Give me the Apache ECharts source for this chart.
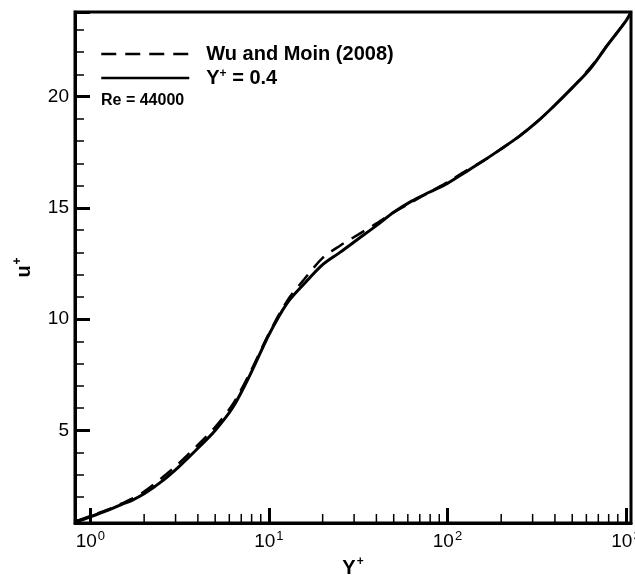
<!DOCTYPE html>
<html>
<head>
<meta charset="utf-8">
<script src="https://cdn.jsdelivr.net/npm/echarts@6/dist/echarts.min.js"></script>
<style>
html,body{margin:0;padding:0;background:#fff;}
#chart{width:635px;height:579px;}
</style>
</head>
<body>
<div id="chart"></div>
<script>
// ---- data ----
const yPlusSolid = [0.82, 1.0, 1.26, 1.5, 1.7, 2.0, 2.5, 3.16, 4.0, 5.0, 6.3, 7.9, 10, 12.6, 15.8, 20, 25, 31.6, 40, 50, 63, 79, 100, 126, 158, 200, 251, 316, 398, 501, 631, 794, 1000, 1067];
const uSolid     = [0.88, 1.12, 1.42, 1.68, 1.85, 2.15, 2.7, 3.4, 4.2, 5.0, 6.05, 7.55, 9.3, 10.7, 11.6, 12.45, 13.0, 13.6, 14.2, 14.8, 15.3, 15.7, 16.1, 16.6, 17.1, 17.65, 18.2, 18.85, 19.6, 20.4, 21.25, 22.35, 23.4, 23.8];
const yPlusWu    = [0.82, 1.0, 1.26, 1.5, 1.7, 2.0, 2.5, 3.16, 4.0, 5.0, 6.3, 7.9, 10, 12.6, 15.8, 20, 25, 31.6, 40, 50, 63, 79, 100, 126, 158, 200, 251, 316, 398, 501, 631, 794, 1000, 1067];
const uWu        = [0.9, 1.15, 1.45, 1.72, 1.92, 2.25, 2.85, 3.55, 4.35, 5.15, 6.2, 7.65, 9.35, 10.8, 11.8, 12.75, 13.3, 13.8, 14.3, 14.8, 15.25, 15.7, 16.15, 16.65, 17.1, 17.65, 18.2, 18.85, 19.6, 20.4, 21.3, 22.35, 23.4, 23.8];
const xMinorTicks = [2, 3, 4, 5, 6, 7, 8, 9, 20, 30, 40, 50, 60, 70, 80, 90, 200, 300, 400, 500, 600, 700, 800, 900];
const xMin = 0.82, xMax = 1067;
const yMin = 0.84, yMax = 23.8;
const seriesNames = ['Wu and Moin (2008)', 'Y+ = 0.4'];
const annotation = 'Re = 44000';

const FONT = '"Liberation Sans", Arial, sans-serif';
const chart = echarts.init(document.getElementById('chart'), null, {renderer: 'canvas'});

function pairs(xs, ys) { return xs.map((x, i) => [x, ys[i]]); }

const option = {
  backgroundColor: '#ffffff',
  animation: false,
  grid: {left: 75, right: 4, top: 12, bottom: 56, containLabel: false, outerBoundsMode: 'none',
         show: true, borderColor: '#000', borderWidth: 3, backgroundColor: 'transparent'},
  xAxis: {
    type: 'log', logBase: 10, min: xMin, max: xMax,
    name: '{m|Y}{s|+}', nameLocation: 'middle', nameGap: 33,
    nameTextStyle: {rich: {
      m: {fontFamily: FONT, fontWeight: 'bold', fontSize: 20, color: '#000', lineHeight: 22, verticalAlign: 'bottom'},
      s: {fontFamily: FONT, fontWeight: 'bold', fontSize: 12, color: '#000', lineHeight: 22, verticalAlign: 'top', padding: [0, 0, 0, 1]}
    }},
    axisLine: {show: true, lineStyle: {color: '#000', width: 3}},
    axisTick: {show: true, inside: true, length: 15, lineStyle: {color: '#000', width: 3}},
    splitLine: {show: false},
    axisLabel: {
      showMinLabel: false, showMaxLabel: false, margin: 7,
      formatter: function (v) { const e = Math.round(Math.log10(v)); return '{b|10}{s|' + e + '}'; },
      rich: {
        b: {fontFamily: FONT, fontSize: 19, color: '#000', lineHeight: 21, verticalAlign: 'bottom'},
        s: {fontFamily: FONT, fontSize: 13, color: '#000', lineHeight: 21, verticalAlign: 'top', padding: [0, 0, 0, 1]}
      }
    }
  },
  yAxis: {
    type: 'value', min: yMin, max: yMax, splitNumber: 5,
    name: '{m|u}{s|+}', nameLocation: 'middle', nameGap: 41, nameRotate: 90,
    nameTextStyle: {rich: {
      m: {fontFamily: FONT, fontWeight: 'bold', fontSize: 20, color: '#000', lineHeight: 22, verticalAlign: 'bottom'},
      s: {fontFamily: FONT, fontWeight: 'bold', fontSize: 12, color: '#000', lineHeight: 22, verticalAlign: 'top', padding: [0, 0, 0, 1]}
    }},
    axisLine: {show: true, lineStyle: {color: '#000', width: 3}},
    axisTick: {show: true, inside: true, length: 15, lineStyle: {color: '#000', width: 3}},
    minorTick: {show: true, splitNumber: 5, length: 9, lineStyle: {color: '#000', width: 1.5}},
    splitLine: {show: false},
    axisLabel: {showMinLabel: false, showMaxLabel: false, fontFamily: FONT, fontSize: 19, color: '#000', margin: 6}
  },
  legend: {
    orient: 'vertical', left: 100, top: 44, padding: 0, itemWidth: 88, itemHeight: 14, itemGap: 4,
    data: seriesNames,
    itemStyle: {opacity: 0, borderWidth: 0},
    lineStyle: {width: 2.5},
    formatter: function (n) { return n === 'Y+ = 0.4' ? '{b|Y}{s|+}{b| = 0.4}' : '{b|' + n + '}'; },
    textStyle: {padding: [0, 0, 0, 12], rich: {
      b: {fontFamily: FONT, fontWeight: 'bold', fontSize: 20, color: '#000', lineHeight: 20, verticalAlign: 'bottom'},
      s: {fontFamily: FONT, fontWeight: 'bold', fontSize: 12, color: '#000', lineHeight: 20, verticalAlign: 'top'}
    }}
  },
  graphic: [{type: 'text', left: 101, top: 93, style: {text: annotation, fontFamily: FONT, fontWeight: 'bold', fontSize: 16, fill: '#000'}}],
  series: [
    {name: seriesNames[0], type: 'line', data: pairs(yPlusWu, uWu), symbol: 'none', smooth: 0.3,
     lineStyle: {color: '#000', width: 2.5, type: [15, 9]}, itemStyle: {color: '#000'}, z: 3},
    {name: seriesNames[1], type: 'line', data: pairs(yPlusSolid, uSolid), symbol: 'none', smooth: 0.3,
     lineStyle: {color: '#000', width: 3, type: 'solid'}, itemStyle: {color: '#000'}, z: 4},
    {name: 'xminor', type: 'custom', silent: true, clip: false, z: 5,
     data: xMinorTicks.map(v => [v]),
     renderItem: function (params, api) {
       const p = api.coord([api.value(0), yMin]);
       return {type: 'line', shape: {x1: p[0], y1: p[1], x2: p[0], y2: p[1] - 9}, style: {stroke: '#000', lineWidth: 1.5}};
     }}
  ]
};
chart.setOption(option);
</script>
</body>
</html>
